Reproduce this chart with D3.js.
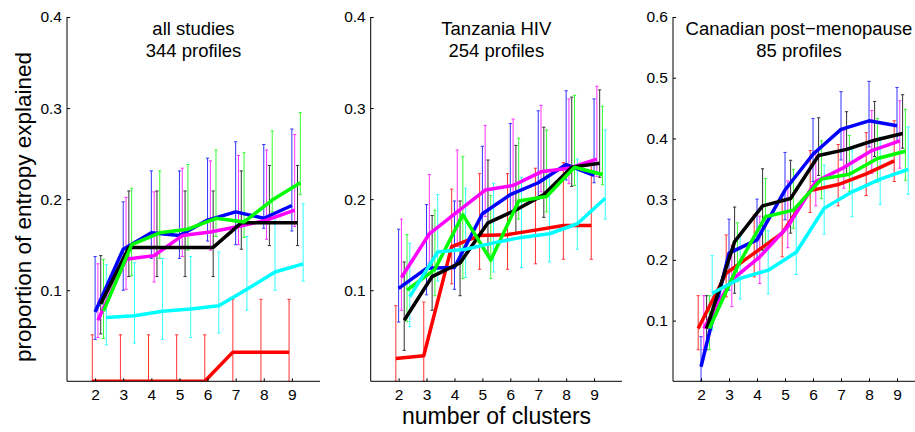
<!DOCTYPE html>
<html><head><meta charset="utf-8">
<script src="https://cdn.jsdelivr.net/npm/d3@7"></script>
<style>
body{margin:0;background:#fff;}
svg{display:block;font-family:"Liberation Sans",Arial,sans-serif;}
</style></head>
<body>
<svg id="chart" width="915" height="432"></svg>
<script>
// ---------- data ----------
const clusters = [2,3,4,5,6,7,8,9];
const seriesNames = ["red","blue","magenta","black","green","cyan"];
const seriesColors = ["#ff0000","#0000ff","#ff00ff","#000000","#00ff00","#00ffff"];
const seriesOffsets = [-0.1,0,0.1,0.2,0.3,0.4];
const panelTitles = [["all studies","344 profiles"],["Tanzania HIV","254 profiles"],["Canadian post\u2212menopause","85 profiles"]];
const yTicks1 = [0.1,0.2,0.3,0.4];
const yTicks2 = [0.1,0.2,0.3,0.4];
const yTicks3 = [0.1,0.2,0.3,0.4,0.5,0.6];
const yMax = [0.4,0.4,0.6];

// panel 1: all studies
const a_red     = [0,0,0,0,0,0.032,0.032,0.032];
const a_red_lo  = [0,0,0,0,0,0,0,0];
const a_red_hi  = [0.051,0.051,0.051,0.051,0.051,0.09,0.09,0.09];
const a_blue    = [0.076,0.145,0.163,0.160,0.177,0.186,0.179,0.193];
const a_blue_lo = [0.046,0.100,0.135,0.135,0.154,0.150,0.168,0.165];
const a_blue_hi = [0.137,0.197,0.231,0.231,0.245,0.263,0.260,0.277];
const a_mag     = [0.067,0.134,0.138,0.160,0.164,0.170,0.177,0.188];
const a_mag_lo  = [0.048,0.101,0.109,0.137,0.144,0.150,0.156,0.170];
const a_mag_hi  = [0.129,0.202,0.208,0.234,0.242,0.248,0.254,0.271];
const a_blk     = [0.085,0.147,0.147,0.147,0.147,0.174,0.174,0.174];
const a_blk_lo  = [0.052,0.115,0.115,0.115,0.115,0.145,0.149,0.149];
const a_blk_hi  = [0.138,0.209,0.209,0.209,0.209,0.231,0.237,0.237];
const a_grn     = [0.077,0.150,0.163,0.167,0.179,0.175,0.199,0.218];
const a_grn_lo  = [0.047,0.116,0.135,0.144,0.159,0.158,0.186,0.205];
const a_grn_hi  = [0.134,0.212,0.231,0.238,0.254,0.251,0.275,0.295];
const a_cyn     = [0.070,0.072,0.077,0.0795,0.083,0.101,0.120,0.129];
const a_cyn_lo  = [0.040,0.042,0.046,0.048,0.053,0.078,0.100,0.110];
const a_cyn_hi  = [0.128,0.130,0.135,0.137,0.142,0.159,0.185,0.195];

// panel 2: Tanzania HIV
const t_red     = [0.025,0.028,0.148,0.160,0.161,0.166,0.171,0.171];
const t_red_lo  = [0,0,0.107,0.123,0.123,0.129,0.134,0.134];
const t_red_hi  = [0.083,0.087,0.211,0.228,0.228,0.234,0.240,0.240];
const t_blue    = [0.102,0.124,0.125,0.184,0.205,0.218,0.238,0.226];
const t_blue_lo = [0.065,0.095,0.101,0.159,0.184,0.200,0.221,0.218];
const t_blue_hi = [0.167,0.194,0.198,0.258,0.283,0.297,0.319,0.310];
const t_mag     = [0.114,0.162,0.186,0.210,0.215,0.230,0.234,0.244];
const t_mag_lo  = [0.078,0.130,0.148,0.181,0.188,0.208,0.217,0.225];
const t_mag_hi  = [0.178,0.227,0.254,0.281,0.288,0.303,0.310,0.324];
const t_blk     = [0.067,0.115,0.130,0.174,0.188,0.205,0.235,0.2395];
const t_blk_lo  = [0.034,0.078,0.094,0.140,0.163,0.180,0.214,0.224];
const t_blk_hi  = [0.131,0.182,0.198,0.243,0.259,0.279,0.312,0.320];
const t_grn     = [0.100,0.123,0.183,0.133,0.198,0.203,0.235,0.227];
const t_grn_lo  = [0.0655,0.094,0.113,0.113,0.178,0.186,0.215,0.216];
const t_grn_hi  = [0.161,0.188,0.247,0.204,0.267,0.276,0.314,0.302];
const t_cyn     = [0.093,0.142,0.145,0.152,0.158,0.162,0.173,0.201];
const t_cyn_lo  = [0.060,0.110,0.114,0.120,0.125,0.131,0.145,0.178];
const t_cyn_hi  = [0.1515,0.205,0.212,0.2175,0.224,0.227,0.244,0.276];

// panel 3: Canadian post-menopause
const c_red     = [0.087,0.178,0.211,0.244,0.314,0.324,0.3415,0.363];
const c_red_lo  = [0.052,0.139,0.172,0.205,0.278,0.289,0.306,0.329];
const c_red_hi  = [0.141,0.241,0.274,0.307,0.380,0.390,0.4095,0.429];
const c_blue    = [0.024,0.211,0.233,0.315,0.374,0.415,0.429,0.421];
const c_blue_lo = [0,0.150,0.200,0.266,0.329,0.3645,0.386,0.395];
const c_blue_hi = [0.0735,0.267,0.300,0.377,0.433,0.477,0.494,0.484];
const c_mag     = [0.087,0.167,0.205,0.255,0.329,0.352,0.380,0.396];
const c_mag_lo  = [0.052,0.123,0.161,0.220,0.289,0.318,0.3425,0.351];
const c_mag_hi  = [0.141,0.224,0.272,0.330,0.380,0.413,0.446,0.462];
const c_blk     = [0.087,0.230,0.289,0.301,0.372,0.382,0.397,0.408];
const c_blk_lo  = [0.052,0.145,0.216,0.244,0.339,0.341,0.370,0.384];
const c_blk_hi  = [0.141,0.287,0.350,0.364,0.434,0.444,0.461,0.472];
const c_grn     = [0.087,0.189,0.271,0.282,0.333,0.341,0.367,0.379];
const c_grn_lo  = [0.052,0.164,0.219,0.252,0.301,0.313,0.328,0.331];
const c_grn_hi  = [0.141,0.261,0.334,0.349,0.396,0.405,0.433,0.448];
const c_cyn     = [0.145,0.1695,0.183,0.2125,0.285,0.312,0.333,0.349];
const c_cyn_lo  = [0.0845,0.1355,0.144,0.176,0.2425,0.271,0.291,0.308];
const c_cyn_hi  = [0.207,0.239,0.248,0.285,0.356,0.381,0.402,0.419];

// ---------- assemble ----------
const panels = [
  {title: panelTitles[0], ticks: yTicks1, ymax: yMax[0],
   series: [[a_red,a_red_lo,a_red_hi],[a_blue,a_blue_lo,a_blue_hi],[a_mag,a_mag_lo,a_mag_hi],
            [a_blk,a_blk_lo,a_blk_hi],[a_grn,a_grn_lo,a_grn_hi],[a_cyn,a_cyn_lo,a_cyn_hi]]},
  {title: panelTitles[1], ticks: yTicks2, ymax: yMax[1],
   series: [[t_red,t_red_lo,t_red_hi],[t_blue,t_blue_lo,t_blue_hi],[t_mag,t_mag_lo,t_mag_hi],
            [t_blk,t_blk_lo,t_blk_hi],[t_grn,t_grn_lo,t_grn_hi],[t_cyn,t_cyn_lo,t_cyn_hi]]},
  {title: panelTitles[2], ticks: yTicks3, ymax: yMax[2],
   series: [[c_red,c_red_lo,c_red_hi],[c_blue,c_blue_lo,c_blue_hi],[c_mag,c_mag_lo,c_mag_hi],
            [c_blk,c_blk_lo,c_blk_hi],[c_grn,c_grn_lo,c_grn_hi],[c_cyn,c_cyn_lo,c_cyn_hi]]}
];

const svg = d3.select("#chart");
const panelX = [[67,320],[370.7,622],[673,925]];
const plotTop = 17, plotBottom = 381.3;

panels.forEach((p, pi) => {
  const x = d3.scaleLinear().domain([1,10]).range(panelX[pi]);
  const y = d3.scaleLinear().domain([0,p.ymax]).range([plotBottom, plotTop]);
  const g = svg.append("g");

  const clipId = "clip" + pi;
  svg.append("clipPath").attr("id", clipId).append("rect")
    .attr("x", panelX[pi][0]).attr("y", plotTop - 2)
    .attr("width", panelX[pi][1] - panelX[pi][0]).attr("height", plotBottom - plotTop + 2);

  const plot = g.append("g").attr("clip-path", `url(#${clipId})`);

  // error bars
  p.series.forEach((s, si) => {
    const [vals, lo, hi] = s;
    const col = seriesColors[si];
    const eg = plot.append("g").attr("stroke", col).attr("stroke-width", 1).attr("opacity", 0.8);
    clusters.forEach((c, i) => {
      const cx = x(c + seriesOffsets[si]);
      eg.append("line").attr("x1", cx).attr("x2", cx).attr("y1", y(lo[i])).attr("y2", y(hi[i]));
      eg.append("line").attr("x1", cx - 1.6).attr("x2", cx + 1.6).attr("y1", y(hi[i])).attr("y2", y(hi[i]));
      eg.append("line").attr("x1", cx - 1.6).attr("x2", cx + 1.6).attr("y1", y(lo[i])).attr("y2", y(lo[i]));
    });
  });
  // lines
  p.series.forEach((s, si) => {
    const vals = s[0];
    const line = d3.line().x((d, i) => x(clusters[i] + seriesOffsets[si])).y(d => y(d));
    plot.append("path").datum(vals).attr("d", line)
      .attr("fill", "none").attr("stroke", seriesColors[si]).attr("stroke-width", 3.5)
      .attr("stroke-linejoin", "round");
  });

  // axes
  const xAxis = d3.axisBottom(x).tickValues(clusters).tickSizeInner(-3).tickSizeOuter(0).tickPadding(8).tickFormat(d3.format("d"));
  const gx = g.append("g").attr("transform", `translate(0,${plotBottom})`).call(xAxis);
  const yAxis = d3.axisLeft(y).tickValues(p.ticks).tickSizeInner(-3).tickSizeOuter(0).tickPadding(5).tickFormat(d3.format(".1f"));
  const gy = g.append("g").attr("transform", `translate(${panelX[pi][0]},0)`).call(yAxis);
  [gx, gy].forEach(a => {
    a.select(".domain").remove();
    a.selectAll("text").attr("font-size", 15.5).attr("fill", "#000")
      .attr("font-family", "Liberation Sans, Arial, sans-serif");
    a.selectAll(".tick line").attr("stroke", "#000");
  });
  // axis lines (left & bottom only)
  g.append("line").attr("x1", panelX[pi][0]).attr("x2", panelX[pi][0]).attr("y1", plotTop).attr("y2", plotBottom).attr("stroke", "#000");
  g.append("line").attr("x1", panelX[pi][0]).attr("x2", panelX[pi][1]).attr("y1", plotBottom).attr("y2", plotBottom).attr("stroke", "#000");

  // titles
  const cx = (panelX[pi][0] + panelX[pi][1]) / 2;
  g.append("text").attr("x", cx).attr("y", 35).attr("text-anchor", "middle").attr("font-size", 18.5).text(p.title[0]);
  g.append("text").attr("x", cx).attr("y", 57).attr("text-anchor", "middle").attr("font-size", 18.5).text(p.title[1]);
});

// axis labels
svg.append("text").attr("transform", "translate(31,207) rotate(-90)").attr("text-anchor", "middle")
  .attr("font-size", 22.5).text("proportion of entropy explained");
svg.append("text").attr("x", 496.5).attr("y", 424).attr("text-anchor", "middle")
  .attr("font-size", 23).text("number of clusters");
</script>
</body></html>
